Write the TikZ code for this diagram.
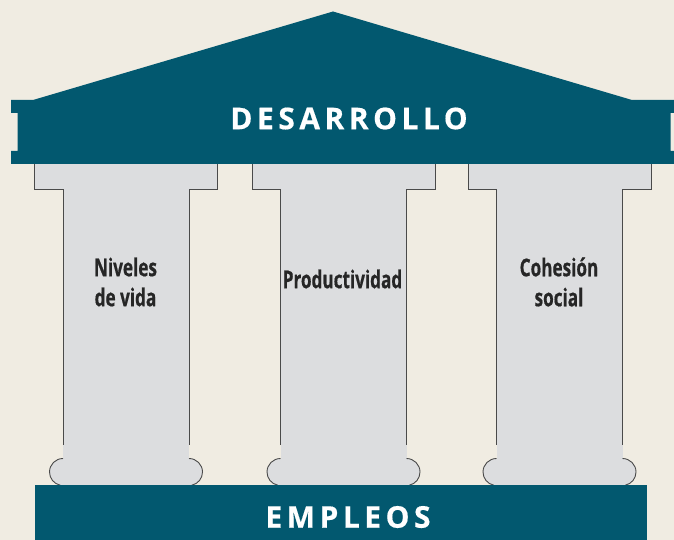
\documentclass[tikz,border=0pt]{standalone}
\usepackage{fontspec}
\newfontfamily\capfont[LetterSpace=15,FakeBold=0.4]{Open Sans}
\newfontfamily\colfont[FakeStretch=0.7,FakeBold=0.6]{Open Sans}
\definecolor{teal1}{HTML}{02586F}
\definecolor{bgc}{HTML}{F0ECE2}
\definecolor{colfill}{HTML}{DCDDDF}
\definecolor{edge}{HTML}{4A4A4A}
\tikzset{
  outline/.style={draw=edge, line width=0.9pt},
  captext/.style={text=white, font=\capfont\bfseries\fontsize{30}{33}\selectfont, inner sep=0pt},
  coltext/.style={text=black!85, font=\colfont\bfseries\fontsize{24.5}{30}\selectfont, align=center, inner sep=0pt}
}
\begin{document}
\begin{tikzpicture}[x=1pt,y=-1pt]
\fill[bgc] (0,0) rectangle (674,540);
\useasboundingbox (0,0) rectangle (674,540);
% columns
\foreach \c in {126,343.5,559.5}{
  \fill[colfill] (\c-91.5,158) rectangle (\c+91.5,189.5);
  \fill[colfill] (\c-63,189) rectangle (\c+63,486);
  \fill[colfill] (\c-63,472) circle[radius=13.5];
  \fill[colfill] (\c+63,472) circle[radius=13.5];
  \draw[outline] (\c-91.5,158) -- (\c-91.5,189.5) -- (\c-63,189.5) -- (\c-63,445);
  \draw[outline] (\c+91.5,158) -- (\c+91.5,189.5) -- (\c+63,189.5) -- (\c+63,445);
  \draw[outline] (\c-63,458.5) arc[start angle=270, end angle=102, radius=13.5];
  \draw[outline] (\c+63,458.5) arc[start angle=-90, end angle=78, radius=13.5];
}
% roof and band
\fill[teal1] (11,100) -- (33,100) -- (333,11.5) -- (632,100) -- (674,100) -- (674,113)
  -- (670.7,113) -- (670.7,151) -- (674,151) -- (674,164) -- (11,164) -- (11,151)
  -- (17.5,151) -- (17.5,113) -- (11,113) -- cycle;
% base
\fill[teal1] (35,485) rectangle (647,541);
% texts
\node[captext] (des) at (349,118.5) {DESARROLLO};
\node[captext] (emp) at (348,517) {EMPLEOS};
\node[coltext] (niv) at (125.5,282) {Niveles\\de vida};
\node[coltext] (pro) at (342.5,279) {Productividad};
\node[coltext] (coh) at (559,282) {Cohesión\\social};
\end{tikzpicture}
\end{document}
